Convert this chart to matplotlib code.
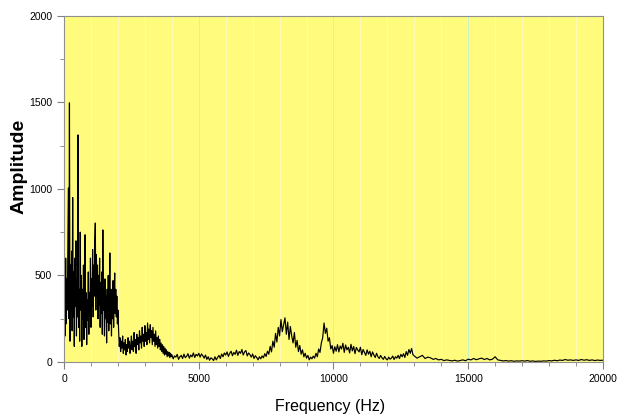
import numpy as np
import matplotlib.pyplot as plt
from matplotlib.ticker import MultipleLocator

plt.rcParams['font.family'] = ['Liberation Sans', 'DejaVu Sans']

# amplitude, segment by segment
amp_0_2000 = [50, 400, 150, 600, 220, 480, 300, 620, 1005, 250,
              1497, 120, 560, 300, 640, 180, 950, 260, 520, 90,
              600, 320, 700, 150, 480, 260, 1312, 200, 420, 120,
              750, 300, 500, 90, 420, 250, 560, 130, 480, 735,
              200, 400, 100, 360, 240, 520, 160, 400, 280, 600,
              200, 480, 320, 650, 260, 560, 380, 700, 803, 300,
              620, 380, 560, 250, 500, 330, 600, 200, 460, 280,
              520, 160, 763, 300, 420, 150, 480, 250, 380, 110,
              420, 230, 500, 180, 360, 630, 220, 420, 150, 360,
              250, 470, 200, 400, 514, 280, 420, 260, 380, 220, 300]
amp_2000_4000 = [180, 90, 140, 60, 120, 80, 150, 50, 110, 70, 130, 40, 100, 60, 140, 80, 120, 50, 90,
                 150, 70, 120, 60, 170, 90, 130, 50, 160, 100, 140, 70, 180, 110, 150, 80, 200, 120, 160, 90,
                 210, 120, 170, 100, 225, 130, 190, 110, 215, 140, 180, 100, 200, 120, 160, 90, 180, 100,
                 140, 80, 150, 90, 130, 70,
                 110, 60, 100, 50, 90, 40, 80, 45, 70, 30, 60, 35, 55, 25, 50, 30]
amp_4000_13000 = [42, 18, 35, 28, 44, 15, 30, 38, 20, 45, 25, 33, 48, 22, 40, 30, 52, 26, 44, 35,
                  50, 28, 46, 36, 22, 40, 15, 30, 10, 24, 18, 8, 30, 12, 26, 38, 20, 46, 30, 52,
                  40, 58, 32, 50, 62, 36, 55, 44, 68, 38, 60, 50, 72, 40, 58, 66, 35, 52, 42, 28,
                  46, 20, 36, 26, 12, 30, 18, 35, 24, 48, 32, 62, 45, 90, 58, 120, 85, 165, 115, 200,
                  150, 245, 175, 215, 255, 160, 230, 130, 205, 150, 110, 170, 85, 125, 60, 95, 45, 70, 30, 50,
                  22, 38, 12, 28, 18, 34, 22, 50, 30, 75, 55, 110, 140, 225, 165, 195, 120, 140, 75, 95,
                  50, 88, 62, 100, 58, 92, 75, 108, 55, 98, 70, 85, 52, 102, 64, 90, 48, 84, 70, 58,
                  85, 42, 72, 55, 38, 70, 45, 62, 30, 58, 40, 26, 50, 30, 20, 38, 24, 15, 32, 18,
                  12, 28, 16, 22, 34, 14, 30, 22, 38, 20, 44, 30, 48, 26, 60, 38, 72, 50, 78, 42]
amp_13000_20000 = [35, 22, 30, 38, 20, 28, 24, 15, 20, 12,
                   15, 8, 12, 9, 6, 10, 5, 8, 12, 7,
                   16, 12, 20, 13, 18, 22, 14, 20, 12, 16,
                   30, 12, 9, 6, 8, 5, 7, 4, 6, 5,
                   7, 5, 8, 4, 6, 3, 5, 4, 6, 5,
                   8, 6, 10, 7, 11, 9, 14, 10, 12, 9,
                   12, 9, 14, 10, 13, 9, 12, 8, 11, 9, 10]

# sampling grid of each segment
f_a = np.linspace(0, 2000, len(amp_0_2000))
f_b = np.linspace(2025, 3975, len(amp_2000_4000))
f_c = np.linspace(4000, 12950, len(amp_4000_13000))
f_d = np.linspace(13000, 20000, len(amp_13000_20000))

freq = np.concatenate([f_a, f_b, f_c, f_d])
amp = np.concatenate([amp_0_2000, amp_2000_4000, amp_4000_13000, amp_13000_20000])

fig = plt.figure(figsize=(6.28, 4.17), dpi=100)
ax = fig.add_axes([0.102, 0.132, 0.858, 0.830])
ax.set_facecolor('#fffb7d')

# faint vertical grid, cyan at the major ticks
for x in range(1000, 20000, 1000):
    c = '#c4f2d4' if x % 5000 == 0 else '#fffcc0'
    ax.axvline(x, color=c, lw=0.6, zorder=0)

ax.plot(freq, amp, color='black', lw=0.85)

ax.set_xlim(0, 20000)
ax.set_ylim(0, 2000)
ax.xaxis.set_major_locator(MultipleLocator(5000))
ax.xaxis.set_minor_locator(MultipleLocator(1000))
ax.yaxis.set_major_locator(MultipleLocator(500))
ax.yaxis.set_minor_locator(MultipleLocator(250))
ax.tick_params(which='both', direction='out', color='#808080', labelsize=7.5)
ax.tick_params(which='major', length=5)
ax.tick_params(which='minor', length=3)
for s in ax.spines.values():
    s.set_color('#909090')

ax.set_xlabel('Frequency (Hz)', fontsize=11.5)
ax.xaxis.set_label_coords(0.493, -0.107)
ax.set_ylabel('Amplitude', fontsize=14, fontweight='bold')
ax.yaxis.set_label_coords(-0.067, 0.564)

fig.savefig('out.png', dpi=100)
